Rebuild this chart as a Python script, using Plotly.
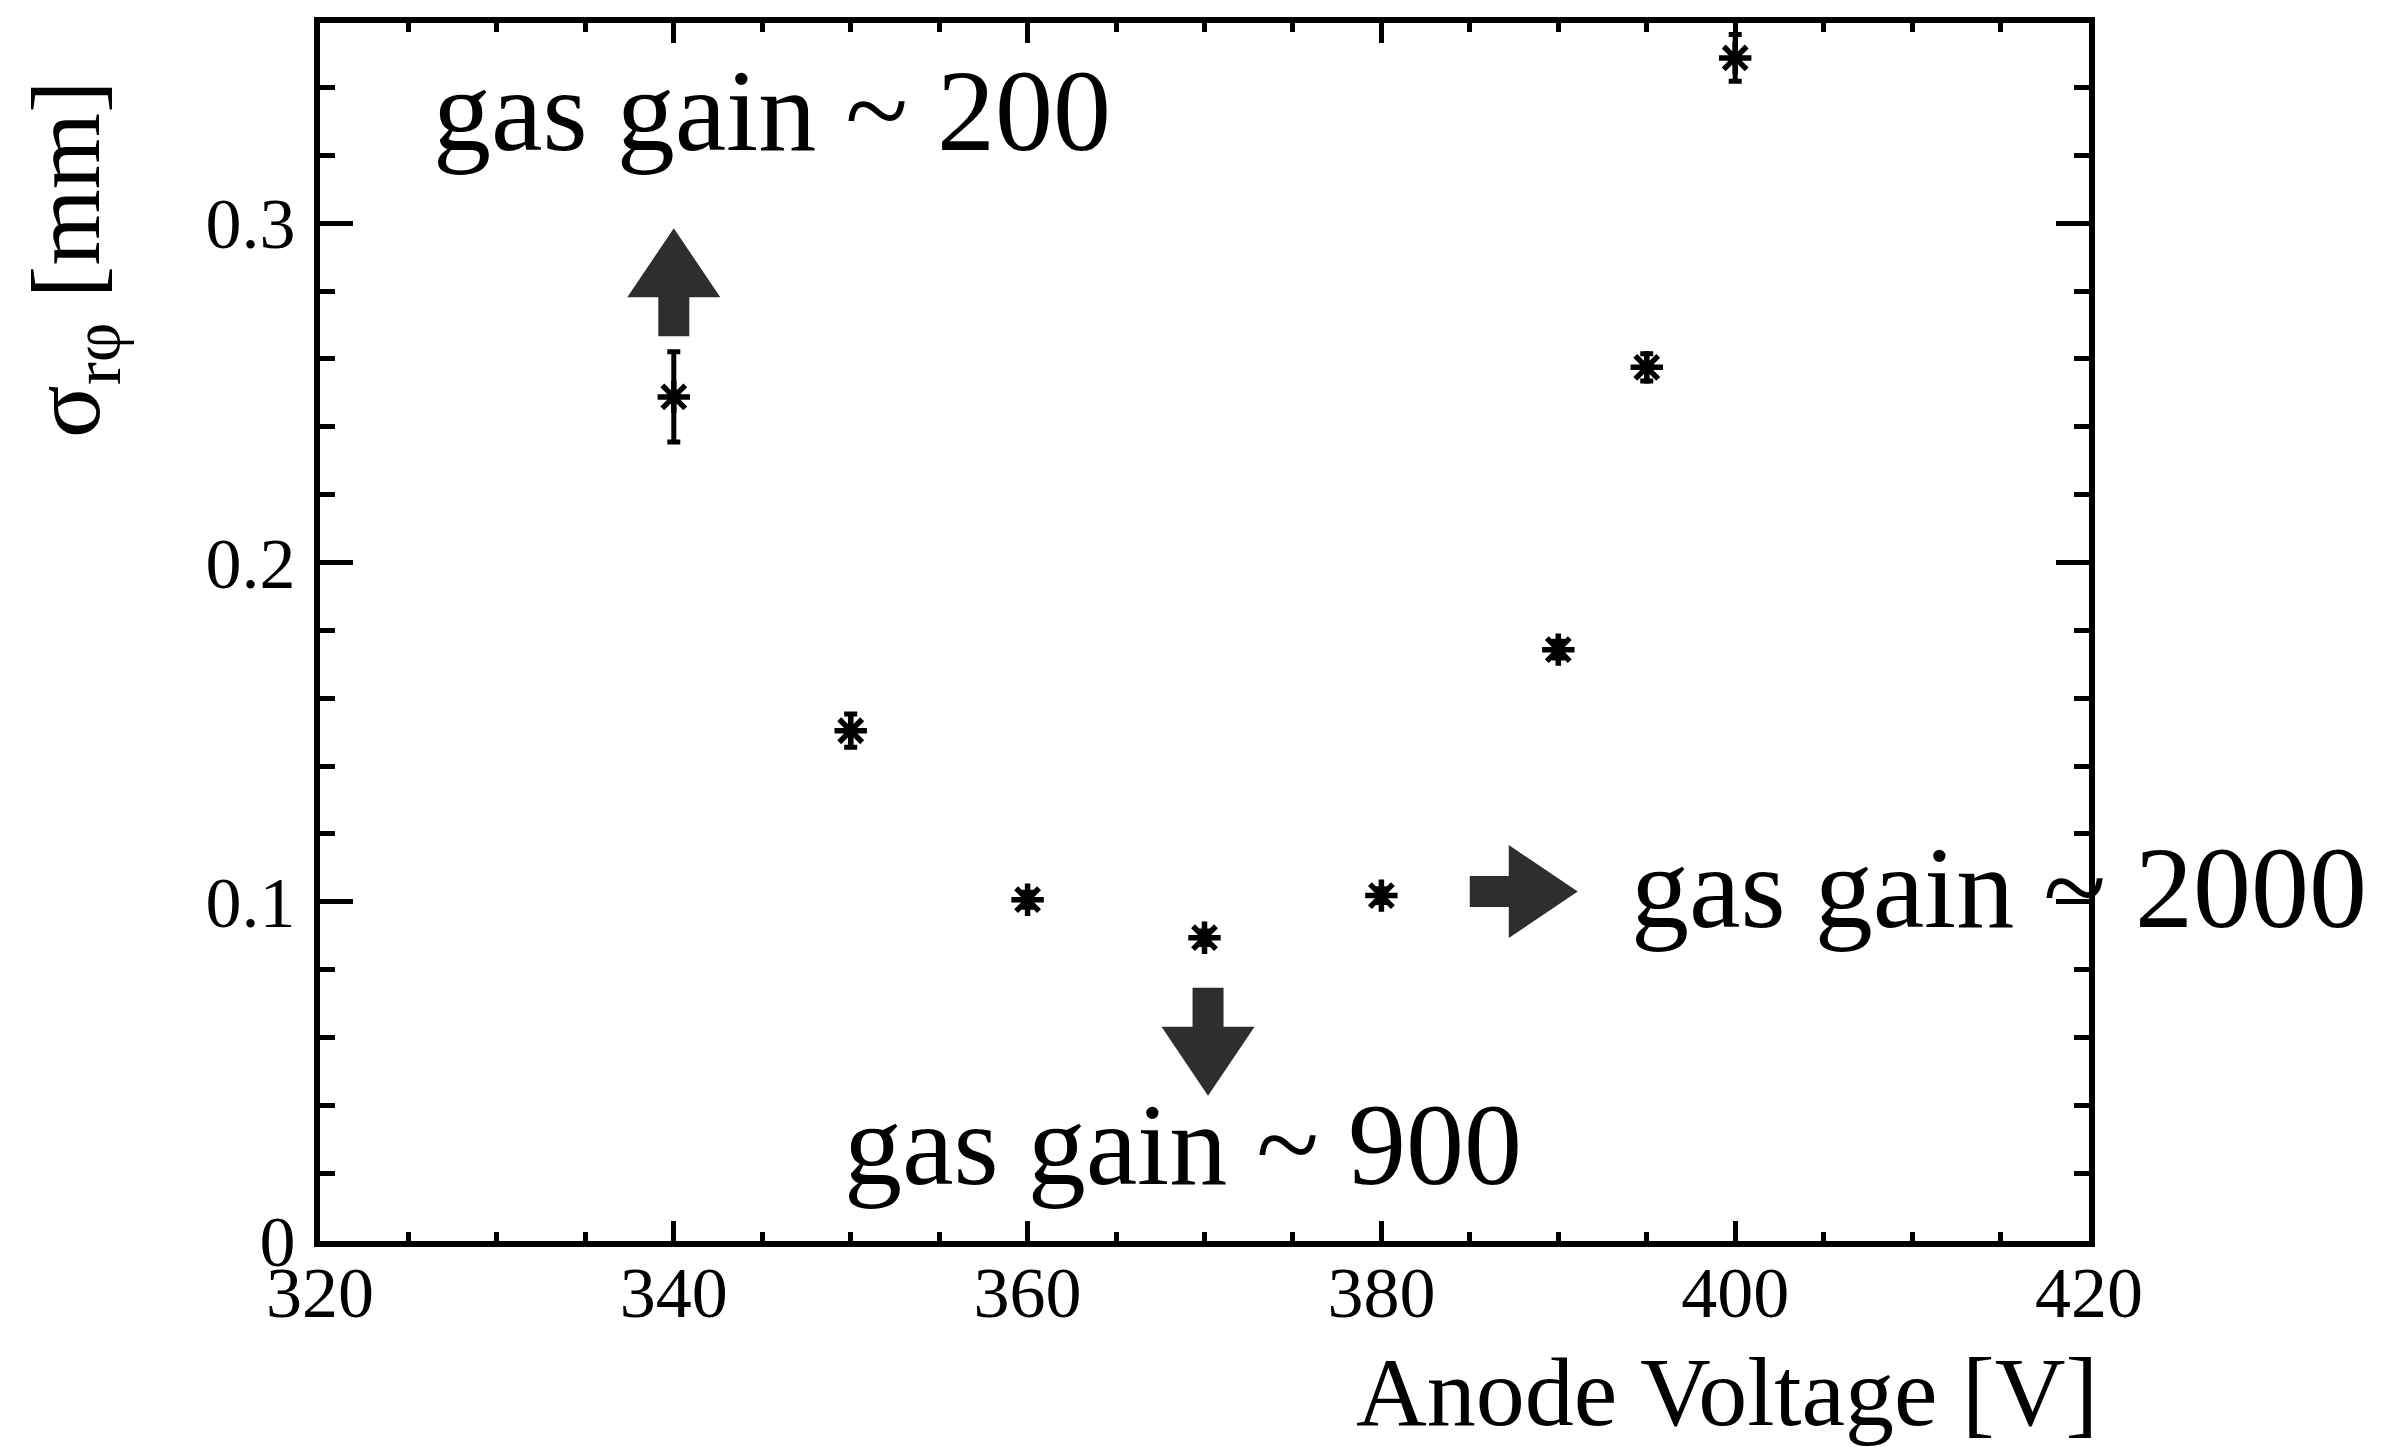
import plotly.graph_objects as go

# Spatial resolution vs. anode voltage
anode_voltage = [340, 350, 360, 370, 380, 390, 395, 400]
sigma_rphi = [0.2488, 0.1504, 0.1006, 0.0894, 0.1018, 0.1743, 0.2575, 0.3487]
sigma_err = [0.0133, 0.0049, 0.0022, 0.0020, 0.0020, 0.0025, 0.0040, 0.0069]

x_ticks = [320, 340, 360, 380, 400, 420]
y_ticks = [0, 0.1, 0.2, 0.3]

# Gas-gain notes: (text, x, y) with the block arrow tip (x, y, direction)
gain_labels = [
    ("gas gain ~ 200", 326.3, 0.333),
    ("gas gain ~ 900", 349.5, 0.0283),
    ("gas gain ~ 2000", 394.0, 0.1041),
]
gain_arrows = [
    (340.0, 0.2985, "up"),
    (370.2, 0.0428, "down"),
    (391.1, 0.1030, "right"),
]

FONT = "Liberation Serif"
W, H = 2382, 1447
L, R, T, B = 320, 293, 23, 206

fig = go.Figure()
fig.add_trace(go.Scatter(
    x=anode_voltage, y=sigma_rphi,
    mode="markers",
    marker=dict(symbol="asterisk-open", size=27, color="black",
                line=dict(width=5.5, color="black")),
    error_y=dict(type="data", array=sigma_err, visible=True,
                 color="black", thickness=5, width=6.5),
    showlegend=False,
))


def arrow_path(direction):
    # block arrow in pixels, tip at the origin, y pointing up
    head_len, head_half, shaft_half, total = 69, 46.5, 15.5, 108
    pts = [(0, 0), (head_half, -head_len), (shaft_half, -head_len),
           (shaft_half, -total), (-shaft_half, -total),
           (-shaft_half, -head_len), (-head_half, -head_len)]
    if direction == "down":
        pts = [(px, -py) for px, py in pts]
    elif direction == "right":
        pts = [(py, px) for px, py in pts]
    return "M" + " L".join(f"{px},{py}" for px, py in pts) + " Z"


for ax_x, ax_y, d in gain_arrows:
    fig.add_shape(
        type="path", path=arrow_path(d),
        xref="x", yref="y", xsizemode="pixel", ysizemode="pixel",
        xanchor=ax_x, yanchor=ax_y,
        fillcolor="#2e2e2e", line=dict(width=0),
    )

for text, tx, ty in gain_labels:
    fig.add_annotation(
        x=tx, y=ty, xref="x", yref="y", text=text, showarrow=False,
        xanchor="left", yanchor="middle",
        font=dict(family=FONT, size=116, color="black"),
    )

fig.add_annotation(
    x=1.006, y=-0.124, xref="paper", yref="paper",
    text="Anode Voltage [V]", showarrow=False,
    xanchor="right", yanchor="middle",
    font=dict(family=FONT, size=98, color="black"),
)
fig.add_annotation(
    x=-0.139, y=0.955, xref="paper", yref="paper",
    text="σ<sub>rφ</sub> [mm]", showarrow=False, textangle=-90,
    xanchor="center", yanchor="top",
    font=dict(family=FONT, size=98, color="black"),
)

axis_common = dict(
    showline=True, linecolor="black", linewidth=6, mirror="allticks",
    ticks="inside", tickcolor="black", tickwidth=5,
    showgrid=False, zeroline=False,
    tickfont=dict(family=FONT, size=72, color="black"),
)

fig.update_xaxes(
    range=[320, 420], tickvals=x_ticks, ticklen=20,
    minor=dict(dtick=5, tick0=320, ticks="inside", ticklen=9,
               tickwidth=5, tickcolor="black", showgrid=False),
    ticklabelstandoff=-16,
    **axis_common,
)
fig.update_yaxes(
    range=[0, 0.359], tickvals=y_ticks, ticktext=["0", "0.1", "0.2", "0.3"],
    ticklen=33,
    minor=dict(dtick=0.02, tick0=0, ticks="inside", ticklen=15,
               tickwidth=5, tickcolor="black", showgrid=False),
    ticklabelstandoff=4,
    **axis_common,
)

fig.update_layout(
    width=W, height=H,
    margin=dict(l=L, r=R, t=T, b=B),
    paper_bgcolor="white", plot_bgcolor="white",
    font=dict(family=FONT, color="black"),
)

fig.write_html("out.html")
